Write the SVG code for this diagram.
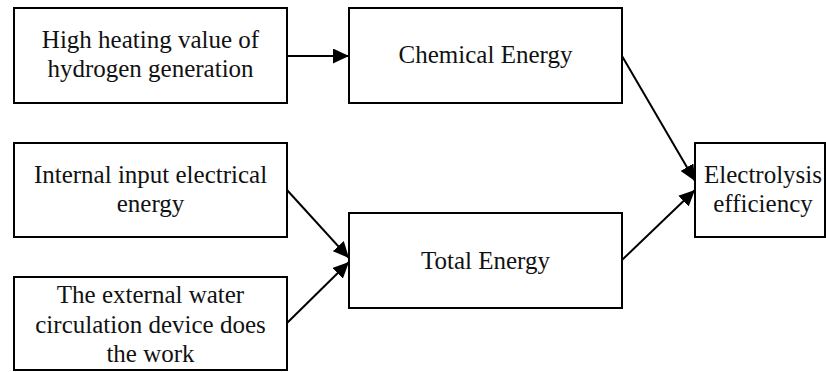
<svg xmlns="http://www.w3.org/2000/svg" width="826" height="372" viewBox="0 0 826 372">
<style>
.box{fill:#fff;stroke:#000;stroke-width:2}
.t{font-family:"Liberation Serif","Times New Roman",serif;font-size:25px;fill:#111;text-anchor:middle}
.c{stroke:#000;stroke-width:2;fill:none;marker-end:url(#ah)}
</style>
<defs>
<marker id="ah" viewBox="0 0 16 15" refX="16" refY="7.5" markerWidth="16" markerHeight="15" markerUnits="userSpaceOnUse" orient="auto">
<path d="M0,0 L16,7.5 L0,15 z" fill="#000"/>
</marker>
</defs>
<rect width="826" height="372" fill="#fff"/>
<g id="n-hhv">
<rect class="box" x="14" y="8" width="273" height="95"/>
<text class="t" x="150.5" y="48">High heating value of</text>
<text class="t" x="150.5" y="77">hydrogen generation</text>
</g>
<g id="n-chem">
<rect class="box" x="349" y="8" width="273" height="95"/>
<text class="t" x="485.5" y="63">Chemical Energy</text>
</g>
<g id="n-internal">
<rect class="box" x="14" y="143" width="273" height="94"/>
<text class="t" x="150.5" y="183">Internal input electrical</text>
<text class="t" x="150.5" y="212">energy</text>
</g>
<g id="n-external">
<rect class="box" x="14" y="277" width="273" height="93"/>
<text class="t" x="150.5" y="303">The external water</text>
<text class="t" x="150.5" y="332.5">circulation device does</text>
<text class="t" x="150.5" y="361.5">the work</text>
</g>
<g id="n-total">
<rect class="box" x="349" y="213" width="273" height="95"/>
<text class="t" x="485.5" y="269">Total Energy</text>
</g>
<g id="n-eff">
<rect class="box" x="695" y="143" width="130" height="94"/>
<text class="t" x="763" y="183">Electrolysis</text>
<text class="t" x="763" y="212">efficiency</text>
</g>
<g id="connectors">
<line class="c" x1="287" y1="56" x2="349" y2="56"/>
<line class="c" x1="287" y1="190" x2="349" y2="258"/>
<line class="c" x1="287" y1="323" x2="349" y2="262"/>
<line class="c" x1="622" y1="56" x2="695" y2="181"/>
<line class="c" x1="622" y1="260" x2="695" y2="190"/>
</g>
</svg>
